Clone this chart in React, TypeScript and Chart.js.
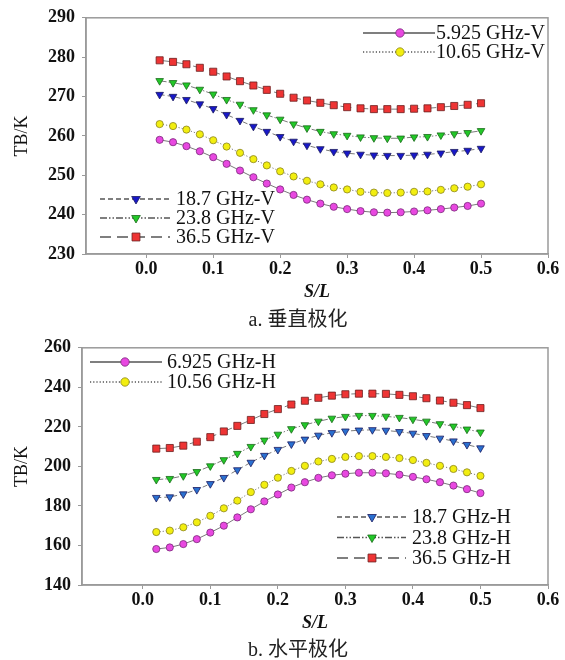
import React, { useEffect, useRef } from 'react';
import { Chart, registerables } from 'chart.js';
import { drawPoint } from 'chart.js/helpers';

Chart.register(...registerables);

// ---------- data ----------
const S_L = [0.02, 0.04, 0.06, 0.08, 0.1, 0.12, 0.14, 0.16, 0.18, 0.2, 0.22, 0.24, 0.26, 0.28, 0.3, 0.32, 0.34, 0.36, 0.38, 0.4, 0.42, 0.44, 0.46, 0.48, 0.5];
const X_TICKS = [0.0, 0.1, 0.2, 0.3, 0.4, 0.5, 0.6];

const V_LABELS = ['5.925 GHz-V', '10.65 GHz-V', '18.7 GHz-V', '23.8 GHz-V', '36.5 GHz-V'];
const V_5925 = [259.0, 258.4, 257.4, 256.1, 254.6, 252.9, 251.2, 249.5, 247.9, 246.4, 245.0, 243.8, 242.8, 242.0, 241.4, 240.9, 240.6, 240.5, 240.6, 240.8, 241.1, 241.4, 241.8, 242.2, 242.8];
const V_1065 = [263.0, 262.5, 261.6, 260.4, 258.9, 257.3, 255.7, 254.1, 252.5, 251.0, 249.7, 248.6, 247.7, 246.9, 246.4, 245.8, 245.6, 245.5, 245.6, 245.8, 245.9, 246.3, 246.7, 247.1, 247.7];
const V_187 = [270.5, 270.0, 269.2, 268.1, 266.9, 265.4, 263.9, 262.4, 261.1, 259.8, 258.6, 257.6, 256.7, 256.0, 255.6, 255.3, 255.1, 255.0, 255.0, 255.1, 255.3, 255.6, 256.0, 256.3, 256.8];
const V_238 = [274.0, 273.5, 272.9, 271.8, 270.6, 269.2, 268.0, 266.6, 265.3, 264.2, 263.0, 262.0, 261.1, 260.5, 260.1, 259.7, 259.5, 259.4, 259.4, 259.7, 259.8, 260.2, 260.5, 260.8, 261.3];
const V_365 = [279.2, 278.8, 278.2, 277.3, 276.3, 275.1, 273.9, 272.8, 271.7, 270.7, 269.7, 269.0, 268.4, 267.8, 267.3, 267.0, 266.8, 266.8, 266.8, 266.9, 267.0, 267.3, 267.6, 267.9, 268.3];
const V_Y_TICKS = [230, 240, 250, 260, 270, 280, 290];

const H_LABELS = ['6.925 GHz-H', '10.56 GHz-H', '18.7 GHz-H', '23.8 GHz-H', '36.5 GHz-H'];
const H_6925 = [158.2, 159.0, 160.7, 163.2, 166.5, 170.0, 174.2, 178.3, 182.3, 185.8, 189.3, 192.0, 194.2, 195.5, 196.3, 196.8, 196.8, 196.5, 195.8, 194.7, 193.5, 192.0, 190.3, 188.5, 186.5];
const H_1056 = [166.8, 167.5, 169.2, 171.7, 175.0, 178.8, 182.7, 187.0, 190.7, 194.3, 197.7, 200.3, 202.5, 203.8, 204.8, 205.2, 205.2, 204.8, 204.2, 203.2, 201.8, 200.3, 198.7, 197.0, 195.2];
const H_187 = [184.2, 184.5, 186.0, 188.2, 191.2, 194.3, 198.2, 202.0, 205.5, 208.5, 211.3, 213.7, 215.7, 217.0, 217.8, 218.3, 218.5, 218.2, 217.5, 216.7, 215.5, 214.2, 212.8, 211.0, 209.3];
const H_238 = [193.3, 193.8, 195.2, 197.3, 200.2, 203.3, 206.5, 210.0, 213.2, 216.2, 219.0, 221.0, 222.8, 224.3, 225.2, 225.7, 225.7, 225.3, 224.7, 223.8, 222.8, 221.5, 220.3, 218.8, 217.3];
const H_365 = [209.0, 209.3, 210.5, 212.5, 214.8, 217.7, 220.5, 223.5, 226.5, 229.0, 231.3, 233.2, 234.7, 235.8, 236.5, 236.8, 236.8, 236.7, 236.2, 235.5, 234.5, 233.3, 232.2, 231.0, 229.5];
const H_Y_TICKS = [140, 160, 180, 200, 220, 240, 260];

// ---------- styles ----------
const SERIF = '"Liberation Serif", "Times New Roman", serif';
const FRAME = '#9a9a9a';

type Style = { bg: string; border: string; shape: string; rot: number; r: number; dash: number[] };
const styleSet = (blue: string): Style[] => [
  { bg: '#e848e0', border: '#7a2a7a', shape: 'circle', rot: 0, r: 3.6, dash: [] },
  { bg: '#f2ee10', border: '#8a8420', shape: 'circle', rot: 0, r: 3.6, dash: [1.2, 2] },
  { bg: blue, border: '#1a1a60', shape: 'triangle', rot: 180, r: 4.4, dash: [5, 3] },
  { bg: '#22c828', border: '#1a6a1a', shape: 'triangle', rot: 180, r: 4.4, dash: [7, 2, 1.5, 2, 1.5, 2] },
  { bg: '#ee3434', border: '#6a2020', shape: 'rect', rot: 0, r: 5, dash: [11, 6] },
];

const framePlugin = {
  id: 'frameLegend',
  afterDatasetsDraw(chart: any, _args: any, opts: any) {
    const { ctx, chartArea: a } = chart;
    ctx.save();
    ctx.strokeStyle = FRAME;
    ctx.lineWidth = 1.5;
    ctx.strokeRect(a.left, a.top, a.right - a.left, a.bottom - a.top);
    for (const box of opts.boxes || []) {
      box.items.forEach((di: number, k: number) => {
        const ds = chart.data.datasets[di];
        const y = box.y + k * box.dy;
        ctx.setLineDash(ds.borderDash || []);
        ctx.strokeStyle = '#555';
        ctx.lineWidth = 1.3;
        ctx.beginPath();
        ctx.moveTo(box.x0, y);
        ctx.lineTo(box.x1, y);
        ctx.stroke();
        ctx.setLineDash([]);
        ctx.fillStyle = ds.pointBackgroundColor;
        ctx.strokeStyle = ds.pointBorderColor;
        ctx.lineWidth = 0.8;
        drawPoint(ctx, { pointStyle: ds.pointStyle, radius: ds.pointRadius + 0.6, rotation: ds.pointRotation || 0, borderWidth: 0.8 } as any, box.xm, y);
        ctx.fillStyle = '#111';
        ctx.font = `20px ${SERIF}`;
        ctx.textBaseline = 'middle';
        ctx.textAlign = 'left';
        ctx.fillText(ds.label, box.tx, y + 1);
      });
    }
    ctx.restore();
  },
};

type PanelProps = {
  top: number;
  height: number;
  labels: string[];
  series: number[][];
  blue: string;
  yMin: number;
  yMax: number;
  yTicks: number[];
  padTop: number;
  yAxisWidth: number;
  xAxisHeight: number;
  yTitlePad: number;
  xTitlePad: number;
  boxes: any[];
  caption: string;
  captionTop: number;
};

function Panel(p: PanelProps) {
  const ref = useRef<HTMLCanvasElement | null>(null);
  useEffect(() => {
    if (!ref.current) return;
    const styles = styleSet(p.blue);
    const chart = new Chart(ref.current, {
      type: 'line',
      data: {
        datasets: p.series.map((vals, i) => ({
          label: p.labels[i],
          data: vals.map((v, j) => ({ x: S_L[j], y: v })),
          borderColor: '#7a7a7a',
          borderWidth: 1,
          borderDash: styles[i].dash,
          pointStyle: styles[i].shape,
          pointRotation: styles[i].rot,
          pointRadius: styles[i].r,
          pointBackgroundColor: styles[i].bg,
          pointBorderColor: styles[i].border,
          pointBorderWidth: 0.8,
          fill: false,
          tension: 0,
        })),
      },
      options: {
        animation: false,
        responsive: false,
        maintainAspectRatio: false,
        layout: { padding: { top: p.padTop, left: 0, right: 17, bottom: 0 } },
        plugins: {
          legend: { display: false },
          tooltip: { enabled: false },
          frameLegend: { boxes: p.boxes },
        } as any,
        scales: {
          x: {
            type: 'linear',
            min: -0.09,
            max: 0.6,
            afterBuildTicks: (s: any) => { s.ticks = X_TICKS.map((v) => ({ value: v })); },
            afterFit: (s: any) => { s.height = p.xAxisHeight; },
            ticks: {
              font: { family: SERIF, size: 18, weight: 'bold' },
              color: '#111',
              padding: 1,
              maxRotation: 0,
              callback: (v: any) => Number(v).toFixed(1),
            },
            grid: { display: true, drawOnChartArea: false, drawTicks: true, tickLength: 4, color: FRAME },
            border: { display: true, color: FRAME, width: 1.5 },
            title: {
              display: true,
              text: 'S/L',
              font: { family: SERIF, size: 18, weight: 'bold', style: 'italic', lineHeight: 1.2 },
              color: '#111',
              padding: { top: 0, bottom: p.xTitlePad },
            },
          },
          y: {
            type: 'linear',
            min: p.yMin,
            max: p.yMax,
            afterBuildTicks: (s: any) => { s.ticks = p.yTicks.map((v) => ({ value: v })); },
            afterFit: (s: any) => { s.width = p.yAxisWidth; },
            ticks: {
              font: { family: SERIF, size: 18, weight: 'bold' },
              color: '#111',
              padding: 7,
            },
            grid: { display: true, drawOnChartArea: false, drawTicks: true, tickLength: 4, color: FRAME },
            border: { display: true, color: FRAME, width: 1.5 },
            title: {
              display: true,
              text: 'TB/K',
              font: { family: SERIF, size: 18, lineHeight: 1.2 },
              color: '#111',
              padding: { top: p.yTitlePad, bottom: 0 },
            },
          },
        },
      },
      plugins: [framePlugin],
    } as any);
    return () => chart.destroy();
  }, []);
  return (
    <>
      <canvas
        ref={ref}
        width={565}
        height={p.height}
        style={{ position: 'absolute', left: 0, top: p.top, width: 565, height: p.height }}
      />
      <div
        style={{
          position: 'absolute',
          left: 0,
          width: 596,
          top: p.captionTop,
          height: 24,
          lineHeight: '24px',
          textAlign: 'center',
          fontSize: 20,
          color: '#222',
          fontFamily: '"Liberation Serif", "Noto Sans CJK SC", serif',
        }}
      >
        {p.caption}
      </div>
    </>
  );
}

export default function App() {
  return (
    <div style={{ position: 'absolute', left: 0, top: 0, width: 565, height: 660, background: '#fff' }}>
      <Panel
        top={0}
        height={310}
        labels={V_LABELS}
        series={[V_5925, V_1065, V_187, V_238, V_365]}
        blue="#1818c8"
        yMin={230}
        yMax={290}
        yTicks={V_Y_TICKS}
        padTop={17}
        yAxisWidth={86}
        xAxisHeight={56}
        yTitlePad={11}
        xTitlePad={7}
        boxes={[
          { x0: 363, x1: 435, xm: 400, tx: 436, y: 33, dy: 19, items: [0, 1] },
          { x0: 100, x1: 170, xm: 136, tx: 176, y: 199, dy: 19, items: [2, 3, 4] },
        ]}
        caption="a. 垂直极化"
        captionTop={307}
      />
      <Panel
        top={330}
        height={310}
        labels={H_LABELS}
        series={[H_6925, H_1056, H_187, H_238, H_365]}
        blue="#2a70d0"
        yMin={140}
        yMax={260}
        yTicks={H_Y_TICKS}
        padTop={15}
        yAxisWidth={82}
        xAxisHeight={55}
        yTitlePad={11}
        xTitlePad={6}
        boxes={[
          { x0: 90, x1: 162, xm: 125, tx: 167, y: 32, dy: 20, items: [0, 1] },
          { x0: 337, x1: 406, xm: 372, tx: 412, y: 187, dy: 20.5, items: [2, 3, 4] },
        ]}
        caption="b. 水平极化"
        captionTop={637}
      />
    </div>
  );
}
